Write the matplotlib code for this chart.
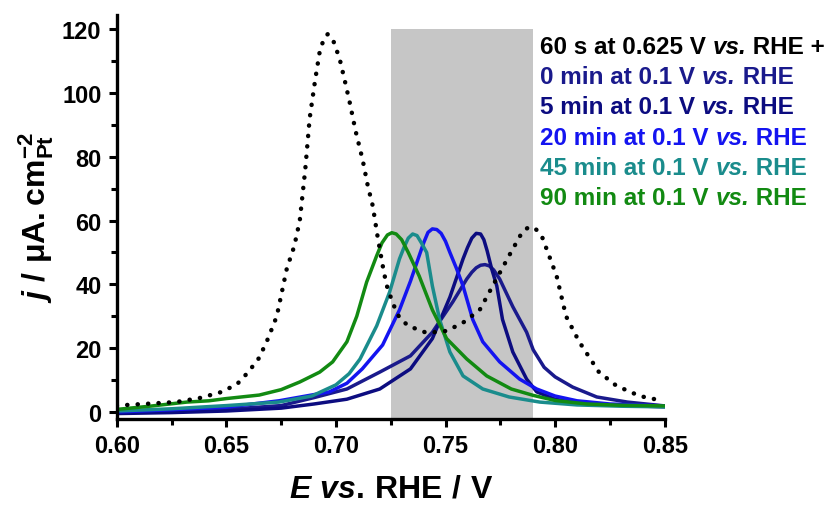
import matplotlib
matplotlib.use("Agg")
import matplotlib.pyplot as plt
from matplotlib.patches import Rectangle
from matplotlib.ticker import FormatStrFormatter

plt.rcParams['font.family'] = ['Liberation Sans', 'DejaVu Sans']
plt.rcParams['font.weight'] = 'bold'
plt.rcParams['mathtext.fontset'] = 'custom'
plt.rcParams['mathtext.rm'] = 'Liberation Sans:bold'
plt.rcParams['mathtext.bf'] = 'Liberation Sans:bold'
plt.rcParams['mathtext.it'] = 'Liberation Sans:bold:italic'

# ---- data ----
E_dot = [0.600, 0.612, 0.627, 0.638, 0.648, 0.655, 0.660, 0.665, 0.669, 0.673, 0.6776, 0.681, 0.6835,
         0.686, 0.688, 0.6905, 0.6926, 0.6945, 0.6963, 0.699, 0.7017, 0.704, 0.7063, 0.709, 0.7122,
         0.7145, 0.7168, 0.719, 0.7213, 0.723, 0.726, 0.729, 0.733, 0.7414, 0.7505, 0.758, 0.7656,
         0.7715, 0.779, 0.785, 0.788, 0.791, 0.794, 0.8007, 0.805, 0.811, 0.820, 0.828, 0.8386, 0.849]
j_dot = [2.0, 2.5, 3.1, 4.4, 6.3, 8.8, 12.5, 17, 23, 30, 45, 52, 60,
         76, 92, 104, 113, 117, 118.5, 116, 110.7, 104, 97, 88, 79,
         71, 64.6, 55, 46, 40, 34, 29.5, 27, 24.8, 25.4, 28, 32,
         39.5, 49, 56.4, 58, 57.5, 55, 42.6, 30, 22, 12.5, 8.2, 5, 3.5]

E_0 = [0.600, 0.625, 0.650, 0.675, 0.690, 0.705, 0.720, 0.734, 0.744, 0.7533, 0.7597, 0.762, 0.764,
       0.766, 0.768, 0.770, 0.772, 0.7747, 0.7807, 0.787, 0.790, 0.795, 0.800, 0.808, 0.819, 0.833, 0.85]
j_0 = [0.0, 0.4, 0.8, 2.0, 4.5, 7.2, 12.5, 17.6, 25, 34.5, 41.7, 43.8, 45.2,
       46.0, 46.2, 45.8, 44.5, 41.7, 33, 25, 19.5, 14, 11, 7.8, 4.7, 3.1, 1.9]

E_5 = [0.600, 0.625, 0.650, 0.675, 0.690, 0.705, 0.720, 0.734, 0.744, 0.752, 0.758, 0.760, 0.762,
       0.764, 0.766, 0.7675, 0.769, 0.771, 0.7734, 0.776, 0.7807, 0.787, 0.7916, 0.80, 0.81, 0.825, 0.85]
j_5 = [-0.5, -0.2, 0.3, 1.2, 2.5, 4.0, 7.2, 13.5, 23, 36, 48, 51.5, 54.5,
       56, 55.8, 54, 50.5, 45, 39.5, 29, 18.8, 10.3, 6.3, 4, 2.8, 2.2, 1.6]

E_20 = [0.600, 0.625, 0.650, 0.674, 0.697, 0.705, 0.712, 0.7213, 0.729, 0.734, 0.738, 0.740, 0.742,
        0.744, 0.746, 0.748, 0.750, 0.752, 0.755, 0.758, 0.7624, 0.767, 0.7747, 0.7838, 0.7916,
        0.80, 0.81, 0.825, 0.85]
j_20 = [0.0, 0.7, 1.5, 3.5, 6.3, 9, 13.5, 21, 32, 41, 49, 53, 56.3,
        57.4, 57.2, 56, 53.5, 50, 45, 39.5, 29, 22, 15.7, 10.3, 7.2,
        5, 3.5, 2.5, 1.9]

E_45 = [0.600, 0.625, 0.650, 0.674, 0.689, 0.700, 0.706, 0.711, 0.7186, 0.7245, 0.729, 0.731, 0.733,
        0.735, 0.737, 0.739, 0.7414, 0.744, 0.7473, 0.752, 0.758, 0.767, 0.779, 0.793, 0.81, 0.83, 0.85]
j_45 = [0.3, 1.0, 2.0, 3.1, 5.0, 8.5, 12, 16.6, 27, 37.6, 48, 51.5, 54.5,
        55.8, 55.3, 53, 50, 39.5, 29, 18.8, 11.3, 7.2, 4.7, 3.1, 2.2, 1.8, 1.6]

E_90 = [0.600, 0.615, 0.632, 0.642, 0.650, 0.665, 0.675, 0.6835, 0.6926, 0.6985, 0.705, 0.7095, 0.714,
        0.7186, 0.721, 0.7235, 0.7255, 0.7275, 0.730, 0.733, 0.738, 0.744, 0.7505, 0.7597, 0.7688,
        0.780, 0.790, 0.800, 0.8144, 0.83, 0.85]
j_90 = [0.8, 1.8, 3.1, 3.5, 4.2, 5.3, 7, 9.4, 12.5, 15.7, 22, 30, 40.7,
        49, 53, 55.5, 56.2, 55.8, 54, 50, 42.6, 32, 23, 16.6, 11.3,
        7.2, 5.2, 3.6, 2.5, 2.1, 1.9]

labels = [("60 s at 0.625 V ", "vs.", " RHE +"),
          ("0 min at 0.1 V ", "vs.", " RHE"),
          ("5 min at 0.1 V ", "vs.", " RHE"),
          ("20 min at 0.1 V ", "vs.", " RHE"),
          ("45 min at 0.1 V ", "vs.", " RHE"),
          ("90 min at 0.1 V ", "vs.", " RHE")]
colors = ['#000000', '#1a1a8c', '#0c0c80', '#1414f0', '#1a8c8c', '#128a12']

x_ticks = [0.60, 0.65, 0.70, 0.75, 0.80, 0.85]
y_ticks = [0, 20, 40, 60, 80, 100, 120]
band = (0.725, 0.79, 120)

# ---- figure ----
fig = plt.figure(figsize=(8.34, 5.06), dpi=100)
ax = fig.add_axes([0.140, 0.170, 0.657, 0.798])
ax.set_xlim(0.60, 0.85)
ax.set_ylim(-2.2, 124.4)

ylo = ax.get_ylim()[0]
ax.add_patch(Rectangle((band[0], ylo), band[1] - band[0], band[2] - ylo,
                       facecolor='#c6c6c6', edgecolor='none', zorder=0))

lw = 2.5
series = [(E_0, j_0), (E_5, j_5), (E_20, j_20), (E_45, j_45), (E_90, j_90)]
for (e, j), c in zip(series, colors[1:]):
    ax.plot(e, j, color=c, lw=lw, solid_joinstyle='round', solid_capstyle='round', zorder=2)
ax.plot(E_dot, j_dot, color='black', lw=3.2, linestyle=(0, (0.05, 2.3)),
        dash_capstyle='round', zorder=3)

for s in ['top', 'right']:
    ax.spines[s].set_visible(False)
for s in ['left', 'bottom']:
    ax.spines[s].set_linewidth(2.4)

ax.set_xticks(x_ticks)
ax.set_xticks([0.625, 0.675, 0.725, 0.775, 0.825], minor=True)
ax.set_yticks(y_ticks)
ax.set_yticks([10, 30, 50, 70, 90, 110], minor=True)
ax.xaxis.set_major_formatter(FormatStrFormatter('%.2f'))
ax.tick_params(which='major', length=6, width=2.2, direction='out', labelsize=17, pad=5)
ax.tick_params(which='minor', length=4, width=2.2, direction='out')
for t in ax.get_xticklabels() + ax.get_yticklabels():
    t.set_fontweight('bold')

ax.set_xlabel(r"$\mathit{E}\ \mathit{vs.}\,\mathrm{RHE\ /\ V}$", fontsize=23, labelpad=12)
ax.set_ylabel(r"$\mathit{j}\ \mathrm{/\ \mu A.cm}^{-2}_{\mathrm{Pt}}$", fontsize=23, labelpad=4)

renderer = fig.canvas.get_renderer()
fs = 17.5
for i, (parts, c) in enumerate(zip(labels, colors)):
    xpix = 540.0
    ypix = 506 - (47 + 30.4 * i)
    for k, p in enumerate(parts):
        style = 'italic' if k == 1 else 'normal'
        t = fig.text(xpix / 834, ypix / 506, p, color=c, fontsize=fs, fontweight='bold',
                     fontstyle=style, ha='left', va='center')
        w = t.get_window_extent(renderer).width
        xpix += w

fig.savefig('out.png', dpi=100)
